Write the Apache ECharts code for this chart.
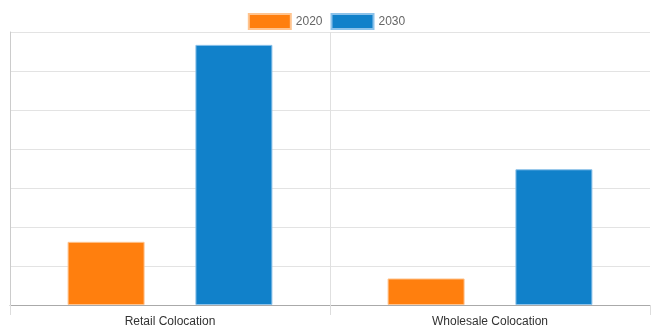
<!DOCTYPE html>
<html>
<head>
<meta charset="utf-8">
<script src="https://cdn.jsdelivr.net/npm/echarts@6/dist/echarts.min.js"></script>
<style>html,body{margin:0;padding:0;background:#fff}#c{width:653px;height:336px}</style>
</head>
<body>
<div id="c"></div>
<script>
const categories = ['Retail Colocation', 'Wholesale Colocation'];
const seriesNames = ['2020', '2030'];
const values2020 = [1.62, 0.68];
const values2030 = [6.67, 3.48];

const chart = echarts.init(document.getElementById('c'), null, {renderer: 'canvas'});
chart.setOption({
  animation: false,
  legend: {
    top: 8,
    left: 'center',
    icon: 'rect',
    itemWidth: 42,
    itemHeight: 15,
    itemGap: 8,
    textStyle: {color: '#666', fontSize: 12, fontFamily: 'Liberation Sans, Arial, sans-serif'},
    data: seriesNames
  },
  grid: {left: 10, right: 3, top: 32, bottom: 31, containLabel: false},
  xAxis: {
    type: 'category',
    data: categories,
    axisLine: {lineStyle: {color: '#aaa'}},
    axisTick: {show: true, length: 10, lineStyle: {color: '#ddd'}},
    axisLabel: {color: '#333', fontSize: 12, margin: 11, fontFamily: 'Liberation Sans, Arial, sans-serif'},
    splitLine: {show: true, showMaxLine: false, lineStyle: {color: '#e0e0e0'}}
  },
  yAxis: {
    type: 'value',
    min: 0, max: 7, interval: 1,
    axisLine: {show: true, lineStyle: {color: '#ccc'}},
    axisTick: {show: false},
    axisLabel: {show: false},
    splitLine: {lineStyle: {color: '#e3e3e3'}}
  },
  series: [
    {name: seriesNames[0], type: 'bar', data: values2020, barWidth: 77, barGap: '66%',
     itemStyle: {color: '#ff7f0e', borderColor: '#ffc48f', borderWidth: 1}},
    {name: seriesNames[1], type: 'bar', data: values2030, barWidth: 77,
     itemStyle: {color: '#1181ca', borderColor: '#8cc2ea', borderWidth: 1}}
  ]
});
</script>
</body>
</html>
